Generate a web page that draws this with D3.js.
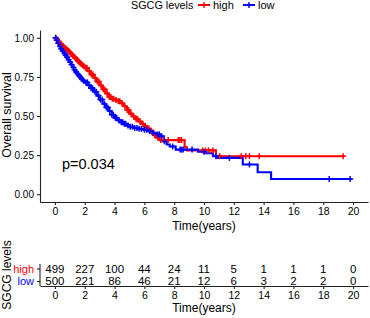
<!DOCTYPE html>
<html><head><meta charset="utf-8">
<script src="https://cdn.jsdelivr.net/npm/d3@7"></script>
<style>
body{margin:0;background:#fff;}
svg{display:block;font-family:"Liberation Sans",Arial,Helvetica,sans-serif;}
</style></head><body>
<svg id="chart" width="370" height="318"></svg>
<script>
// ---- data ----
const strata = ["high", "low"];
const colors = ["#FF0000", "#0000FF"];
const highTimes = [0,0.1,0.2,0.3,0.4,0.5,0.6,0.7,0.8,0.9,1.0,1.1,1.2,1.3,1.4,1.5,1.6,1.7,1.8,1.9,2.0,2.2,2.4,2.6,2.8,3.0,3.2,3.4,3.6,3.8,4.0,4.2,4.4,4.6,4.8,5.0,5.2,5.4,5.6,5.8,6.0,6.2,6.4,6.6,6.8,7.0,8.7,8.85,10.8,19.33];
const highSurv  = [1.000,0.990,0.978,0.965,0.955,0.947,0.938,0.930,0.922,0.912,0.902,0.893,0.883,0.874,0.864,0.853,0.843,0.834,0.826,0.818,0.808,0.787,0.765,0.743,0.720,0.695,0.670,0.645,0.622,0.610,0.603,0.595,0.582,0.562,0.538,0.515,0.497,0.480,0.465,0.450,0.435,0.420,0.400,0.378,0.362,0.346,0.300,0.280,0.243,0.243];
const lowTimes = [0,0.1,0.2,0.3,0.4,0.5,0.6,0.7,0.8,0.9,1.0,1.1,1.2,1.3,1.4,1.5,1.6,1.7,1.8,1.9,2.0,2.2,2.4,2.6,2.8,3.0,3.2,3.4,3.6,3.8,4.0,4.2,4.4,4.6,4.8,5.0,5.3,5.6,5.9,6.2,6.5,6.8,7.05,7.3,7.5,7.7,8.1,9.6,10.1,10.6,10.9,12.6,13.6,14.5,19.9];
const lowSurv  = [1.000,0.985,0.965,0.945,0.930,0.915,0.900,0.888,0.875,0.860,0.845,0.828,0.810,0.795,0.782,0.770,0.758,0.747,0.735,0.725,0.715,0.697,0.678,0.655,0.630,0.605,0.578,0.555,0.532,0.508,0.488,0.472,0.460,0.450,0.440,0.432,0.423,0.418,0.412,0.403,0.393,0.382,0.370,0.338,0.318,0.305,0.285,0.272,0.262,0.243,0.232,0.190,0.140,0.097,0.097];
const highCensor = [0.05,0.15,0.25,0.32,0.45,0.55,0.62,0.75,0.85,0.95,1.05,1.15,1.22,1.35,1.45,1.55,1.65,1.75,1.85,1.95,2.05,2.15,2.3,2.45,2.55,2.7,2.85,2.95,3.1,3.25,3.35,3.5,3.65,3.75,3.85,3.95,4.1,4.25,4.35,4.5,4.7,4.85,4.95,5.1,5.3,5.45,5.55,5.7,5.9,6.05,6.3,6.5,6.7,6.9,7.1,7.3,7.6,8.27,8.38,8.49,9.9,10.1,10.3,10.6,11.05,12.5,12.8,13.05,13.7,19.33];
const lowCensor = [0.05,0.12,0.22,0.35,0.42,0.52,0.65,0.72,0.82,0.92,1.02,1.12,1.25,1.32,1.42,1.52,1.62,1.72,1.82,1.92,2.08,2.18,2.28,2.42,2.52,2.68,2.78,2.92,3.05,3.18,3.32,3.45,3.55,3.68,3.82,3.92,4.05,4.15,4.3,4.45,4.55,4.65,4.75,4.9,5.05,5.2,5.35,5.5,5.65,5.8,6.0,6.15,6.35,6.6,6.9,7.0,7.15,7.35,7.9,8.4,8.5,8.6,9.2,10.0,10.8,11.7,13.05,18.4,19.8];
const riskTimes = [0,2,4,6,8,10,12,14,16,18,20];
const highRisk = [499,227,100,44,24,11,5,1,1,1,0];
const lowRisk  = [500,221,86,46,21,12,6,3,2,2,0];
const yTicks = [0,0.25,0.5,0.75,1];
const pValue = "p=0.034";
const legendTitle = "SGCG levels";
const xTitle = "Time(years)";
const yTitle = "Overall survival";

// ---- drawing ----
const svg = d3.select("#chart");
const x = d3.scaleLinear().domain([-1,21]).range([40,368]);
const y = d3.scaleLinear().domain([-0.05,1.05]).range([202,30]);

const curves = [
  {times: highTimes, surv: highSurv, censor: highCensor, color: colors[0]},
  {times: lowTimes, surv: lowSurv, censor: lowCensor, color: colors[1]}
];
const line = d3.line().x(d=>x(d[0])).y(d=>y(d[1])).curve(d3.curveStepAfter);
function survAt(c, t){
  const i = d3.bisectRight(c.times, t) - 1;
  return c.surv[Math.max(0,i)];
}
const plot = svg.append("g");
curves.forEach(c=>{
  const pts = c.times.map((t,i)=>[t,c.surv[i]]);
  plot.append("path").attr("d", line(pts)).attr("fill","none")
    .attr("stroke", c.color).attr("stroke-width", 2.1);
});
curves.forEach(c=>{
  const g = plot.append("g").attr("stroke", c.color).attr("stroke-width", 1.5);
  c.censor.forEach(t=>{
    const cx = x(t), cy = y(survAt(c,t));
    g.append("line").attr("x1",cx-3).attr("x2",cx+3).attr("y1",cy).attr("y2",cy);
    g.append("line").attr("x1",cx).attr("x2",cx).attr("y1",cy-3).attr("y2",cy+3);
  });
});

function styleAxis(g, fs){
  g.selectAll("path.domain").attr("stroke","#222").attr("stroke-width",1.1);
  g.selectAll(".tick line").attr("stroke","#222").attr("stroke-width",1.1);
  g.selectAll(".tick text").attr("fill","#000").style("font-size",fs+"px").style("font-family","'Liberation Sans',Arial,sans-serif");
}
const yAx = svg.append("g").attr("transform","translate(40,0)")
  .call(d3.axisLeft(y).tickValues(yTicks).tickFormat(d3.format(".2f")).tickSize(3).tickSizeOuter(0).tickPadding(3));
styleAxis(yAx, 10);
const xAx = svg.append("g").attr("transform","translate(0,202)")
  .call(d3.axisBottom(x).tickValues(riskTimes).tickSize(3).tickSizeOuter(0).tickPadding(3));
styleAxis(xAx, 10.5);

svg.append("text").attr("x",62).attr("y",168.5).text(pValue).style("font-size","14.5px");
svg.append("text").attr("x",204).attr("y",229.5).attr("text-anchor","middle").text(xTitle).style("font-size","12px");
svg.append("text").attr("transform","translate(11,115) rotate(-90)").attr("text-anchor","middle").text(yTitle).style("font-size","12.5px");

// legend
const lg = svg.append("g");
lg.append("text").attr("x",131).attr("y",9).text(legendTitle).style("font-size","10.8px");
const keys = [{x0:198,x1:210,tx:213},{x0:243,x1:255,tx:258}];
strata.forEach((s,i)=>{
  const k = keys[i];
  lg.append("line").attr("x1",k.x0).attr("x2",k.x1).attr("y1",5).attr("y2",5).attr("stroke",colors[i]).attr("stroke-width",2);
  lg.append("line").attr("x1",(k.x0+k.x1)/2).attr("x2",(k.x0+k.x1)/2).attr("y1",2).attr("y2",8).attr("stroke",colors[i]).attr("stroke-width",1.4);
  lg.append("text").attr("x",k.tx).attr("y",9).text(s).style("font-size","11px");
});

// risk table
const ry = d3.scalePoint().domain(strata).range([268.5,281]);
const rxAx = svg.append("g").attr("transform","translate(0,286)")
  .call(d3.axisBottom(x).tickValues(riskTimes).tickSize(3).tickSizeOuter(0).tickPadding(3));
styleAxis(rxAx, 10.5);
const ryAx = svg.append("g").attr("transform","translate(40,0)")
  .call(d3.axisLeft(ry).tickSize(3).tickSizeOuter(0).tickPadding(3));
ryAx.select("path.domain").attr("d","M0,264V286");
styleAxis(ryAx, 11);
ryAx.selectAll(".tick text").attr("fill",(d,i)=>colors[i]).attr("dy","0.35em");
[highRisk, lowRisk].forEach((arr,si)=>{
  svg.append("g").selectAll("text").data(arr).join("text")
    .attr("x",(d,i)=>x(riskTimes[i])).attr("y",ry(strata[si])).attr("dy","0.36em")
    .attr("text-anchor","middle").text(d=>d).style("font-size","11.5px");
});
svg.append("text").attr("x",204).attr("y",312).attr("text-anchor","middle").text(xTitle).style("font-size","12px");
svg.append("text").attr("transform","translate(11,275) rotate(-90)").attr("text-anchor","middle").text(legendTitle).style("font-size","12px");
</script>
</body></html>
